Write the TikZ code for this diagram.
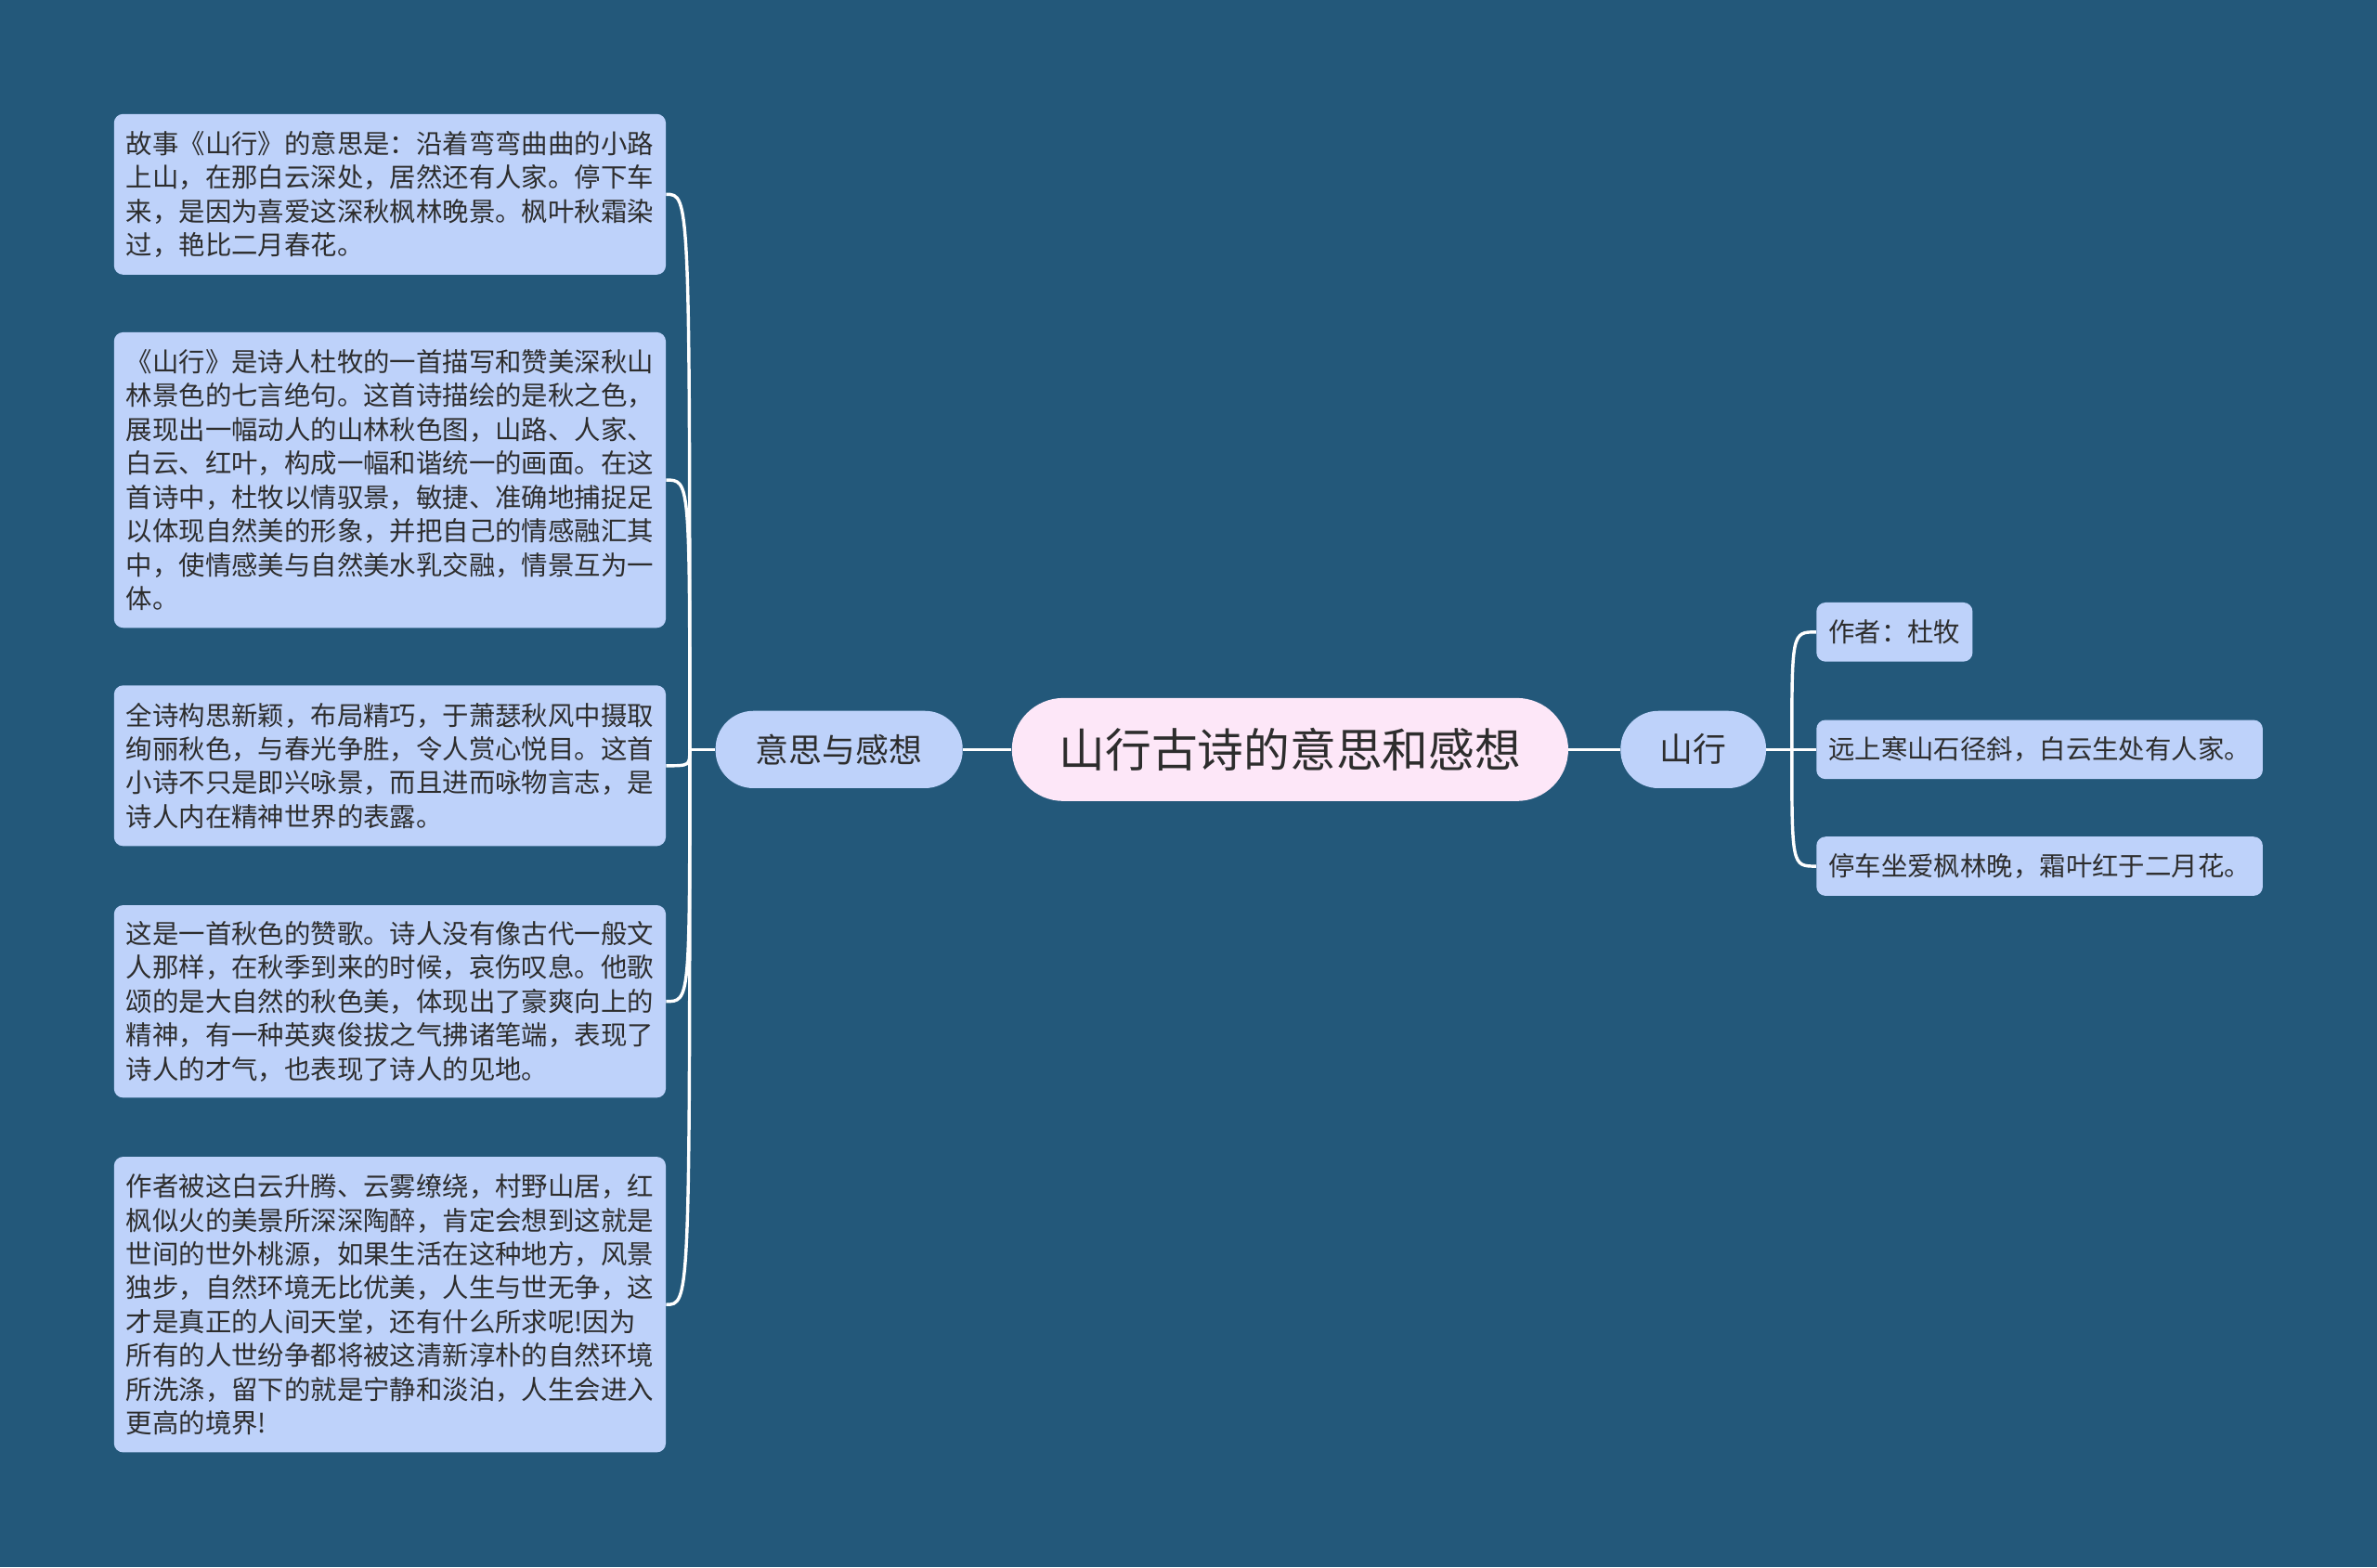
\documentclass[tikz,border=0pt]{standalone}
\usepackage{fontspec}
\setmainfont{Noto Sans CJK SC}
\definecolor{bg}{RGB}{35,88,122}
\definecolor{boxfill}{RGB}{190,210,250}
\definecolor{rootfill}{RGB}{253,231,248}
\definecolor{txt}{RGB}{45,45,45}
\tikzset{
  leafbox/.style={fill=boxfill, rounded corners=6pt, text=txt,
    font=\fontsize{17.4}{22.3}\selectfont, align=left,
    inner xsep=8pt, inner ysep=0pt, text width=348pt, anchor=north west},
  rleaf/.style={fill=boxfill, rounded corners=6pt, text=txt,
    font=\fontsize{17.4}{22.3}\selectfont, inner xsep=8pt, inner ysep=0pt,
    minimum height=39pt, anchor=west},
  midnode/.style={fill=boxfill, rounded corners=25pt, text=txt,
    font=\fontsize{22}{26}\selectfont, inner sep=0pt, minimum height=51pt},
  rootnode/.style={fill=rootfill, rounded corners=34pt, text=txt,
    font=\fontsize{30.5}{36}\selectfont, inner sep=0pt, minimum height=68pt, minimum width=367pt},
  conn/.style={white, line width=2.1pt}
}
\begin{document}
\begin{tikzpicture}[x=1pt,y=-1pt]
\fill[bg] (0,0) rectangle (1568,1034);
\useasboundingbox (0,0) rectangle (1568,1034);

\node[rootnode] (root) at (851,494.5) {山行古诗的意思和感想};
\node[midnode, minimum width=163pt] (mid) at (553.5,494.5) {意思与感想};
\node[midnode, minimum width=96pt] (shan) at (1117,494.5) {山行};

\node[leafbox, minimum height=106pt] (b1) at (75,75) {故事《山行》的意思是：沿着弯弯曲曲的小路\\上山，在那白云深处，居然还有人家。停下车\\来，是因为喜爱这深秋枫林晚景。枫叶秋霜染\\过，艳比二月春花。};
\node[leafbox, minimum height=195pt] (b2) at (75,219) {《山行》是诗人杜牧的一首描写和赞美深秋山\\林景色的七言绝句。这首诗描绘的是秋之色，\\展现出一幅动人的山林秋色图，山路、人家、\\白云、红叶，构成一幅和谐统一的画面。在这\\首诗中，杜牧以情驭景，敏捷、准确地捕捉足\\以体现自然美的形象，并把自己的情感融汇其\\中，使情感美与自然美水乳交融，情景互为一\\体。};
\node[leafbox, minimum height=106pt] (b3) at (75,452) {全诗构思新颖，布局精巧，于萧瑟秋风中摄取\\绚丽秋色，与春光争胜，令人赏心悦目。这首\\小诗不只是即兴咏景，而且进而咏物言志，是\\诗人内在精神世界的表露。};
\node[leafbox, minimum height=127pt] (b4) at (75,597) {这是一首秋色的赞歌。诗人没有像古代一般文\\人那样，在秋季到来的时候，哀伤叹息。他歌\\颂的是大自然的秋色美，体现出了豪爽向上的\\精神，有一种英爽俊拔之气拂诸笔端，表现了\\诗人的才气，也表现了诗人的见地。};
\node[leafbox, minimum height=195pt] (b5) at (75,763) {作者被这白云升腾、云雾缭绕，村野山居，红\\枫似火的美景所深深陶醉，肯定会想到这就是\\世间的世外桃源，如果生活在这种地方，风景\\独步，自然环境无比优美，人生与世无争，这\\才是真正的人间天堂，还有什么所求呢!因为\\所有的人世纷争都将被这清新淳朴的自然环境\\所洗涤，留下的就是宁静和淡泊，人生会进入\\更高的境界!};

\node[rleaf] (r1) at (1198,417) {作者：杜牧};
\node[rleaf] (r2) at (1198,494.5) {远上寒山石径斜，白云生处有人家。};
\node[rleaf] (r3) at (1198,571.5) {停车坐爱枫林晚，霜叶红于二月花。};

\coordinate (lhub) at (455,494.5);
\coordinate (rhub) at (1182,494.5);

\draw[conn] (root.west) -- (mid.east);
\draw[conn] (root.east) -- (shan.west);
\draw[conn] (mid.west) -- (lhub);
\draw[conn] (shan.east) -- (rhub);
\foreach \b in {b1,b2,b3,b4,b5}{
  \draw[conn] (lhub) .. controls (lhub |- \b.east) and (lhub |- \b.east) .. (\b.east);
}
\foreach \b in {r1,r2,r3}{
  \draw[conn] (rhub) .. controls (rhub |- \b.west) and (rhub |- \b.west) .. (\b.west);
}
\end{tikzpicture}
\end{document}
